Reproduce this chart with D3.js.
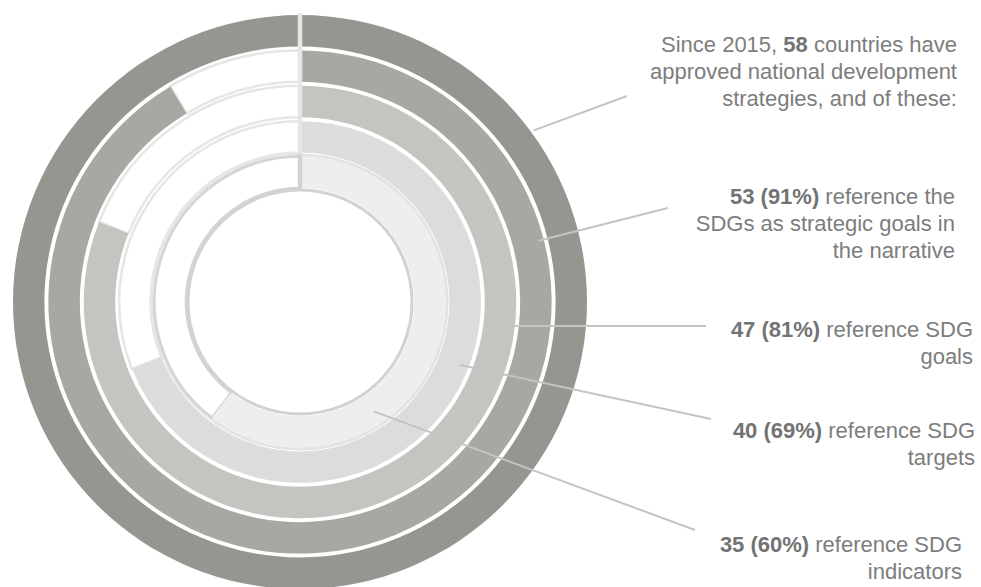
<!DOCTYPE html>
<html>
<head>
<meta charset="utf-8">
<script src="https://cdn.jsdelivr.net/npm/d3@7"></script>
<style>
  body { margin: 0; background: #fff; }
  svg { display: block; font-family: "Liberation Sans", Arial, sans-serif; }
</style>
</head>
<body>
<script>
// data, outer ring first
var total = 58;
var counts = [58, 53, 47, 40, 35];
var percents = [100, 91, 81, 69, 60];
var ringColors = ["#969590", "#a8a7a2", "#c5c4c0", "#dcdcdb", "#eeeeed"];
var captions = [
  ["approved national development", "strategies, and of these:"],
  [" reference the", "SDGs as strategic goals in", "the narrative"],
  [" reference SDG", "goals"],
  [" reference SDG", "targets"],
  [" reference SDG", "indicators"]
];

var width = 981, height = 587;
var cx = 300, cy = 302;

var svg = d3.select("body").append("svg")
    .attr("width", width)
    .attr("height", height);

var g = svg.append("g")
    .attr("transform", "translate(" + cx + "," + cy + ")");

// angle scale: share of the 58 countries
var angle = d3.scaleLinear().domain([0, total]).range([0, 2 * Math.PI]);

// ring radii, ring 0 on the outside
var radius = d3.scaleBand()
    .domain(d3.range(counts.length).reverse())
    .range([114, 287])
    .paddingInner(0.11);

var arc = d3.arc()
    .innerRadius(function(d) { return radius(d.i); })
    .outerRadius(function(d) { return radius(d.i) + radius.bandwidth(); })
    .startAngle(function(d) { return d.a0; })
    .endAngle(function(d) { return d.a1; });

var rings = counts.map(function(c, i) { return {i: i, value: c}; });

// thin light line between the two inner rings
g.append("circle")
    .attr("r", radius(4) + radius.bandwidth() + 1.6)
    .attr("fill", "none")
    .attr("stroke", "#e3e3e3")
    .attr("stroke-width", 3);

// unfilled part of each ring
g.selectAll("path.track")
  .data(rings.filter(function(d) { return d.value < total; }))
  .enter().append("path")
    .attr("class", "track")
    .attr("d", function(d) { return arc({i: d.i, a0: angle(d.value), a1: angle(total)}); })
    .attr("fill", "#fff")
    .attr("stroke", function(d) { return d.i == 4 ? "#d5d4d5" : "#e6e6e6"; })
    .attr("stroke-width", 2.5);

// filled part
g.selectAll("path.bar")
  .data(rings)
  .enter().append("path")
    .attr("class", "bar")
    .attr("d", function(d) { return arc({i: d.i, a0: angle(0), a1: angle(d.value)}); })
    .attr("fill", function(d) { return ringColors[d.i]; });

// start line at 12 o'clock
g.append("line")
    .attr("x1", 0).attr("x2", 0)
    .attr("y1", -(radius(0) + radius.bandwidth() + 2))
    .attr("y2", -(radius(4) + radius.bandwidth() + 2))
    .attr("stroke", "#e6e6e6")
    .attr("stroke-width", 4.5);
g.append("line")
    .attr("x1", 0).attr("x2", 0)
    .attr("y1", -(radius(4) + radius.bandwidth() + 2))
    .attr("y2", -112)
    .attr("stroke", "#d3d2d3")
    .attr("stroke-width", 4.5);

// inner circle
g.append("circle")
    .attr("r", 112)
    .attr("fill", "none")
    .attr("stroke", "#d3d2d3")
    .attr("stroke-width", 3);

// annotations: leader start (angle in degrees, radius) and text block placement
var notes = [
  {deg: 53.7, r: 290, x2: 627, y2: 96,  tx: 957, ty: 52},
  {deg: 75.6, r: 246, x2: 668, y2: 208, tx: 955, ty: 204},
  {deg: 97,   r: 196, x2: 706, y2: 326, tx: 973, ty: 337},
  {deg: 111.5, r: 172, x2: 711, y2: 419, tx: 975, ty: 438},
  {deg: 146,  r: 132, x2: 695, y2: 530, tx: 962, ty: 552}
];

notes.forEach(function(n) {
  var a = n.deg * Math.PI / 180;
  svg.append("line")
      .attr("x1", cx + n.r * Math.sin(a))
      .attr("y1", cy - n.r * Math.cos(a))
      .attr("x2", n.x2)
      .attr("y2", n.y2)
      .attr("stroke", "#c4c4c4")
      .attr("stroke-width", 2);
});

var lineH = 26.8;

notes.forEach(function(n, i) {
  var t = svg.append("text")
      .attr("text-anchor", "end")
      .attr("font-size", 22)
      .attr("fill", "#7d7d7d");
  var first = t.append("tspan").attr("x", n.tx).attr("y", n.ty);
  var rest;
  if (i == 0) {
    first.append("tspan").text("Since 2015, ");
    first.append("tspan").attr("font-weight", "bold").attr("fill", "#737373").text(counts[0]);
    first.append("tspan").text(" countries have");
    rest = captions[0];
  } else {
    first.append("tspan").attr("font-weight", "bold").attr("fill", "#737373")
        .text(counts[i] + " (" + percents[i] + "%)");
    first.append("tspan").text(captions[i][0]);
    rest = captions[i].slice(1);
  }
  rest.forEach(function(s, k) {
    t.append("tspan")
        .attr("x", n.tx)
        .attr("y", n.ty + (k + 1) * lineH)
        .text(s);
  });
});
</script>
</body>
</html>
